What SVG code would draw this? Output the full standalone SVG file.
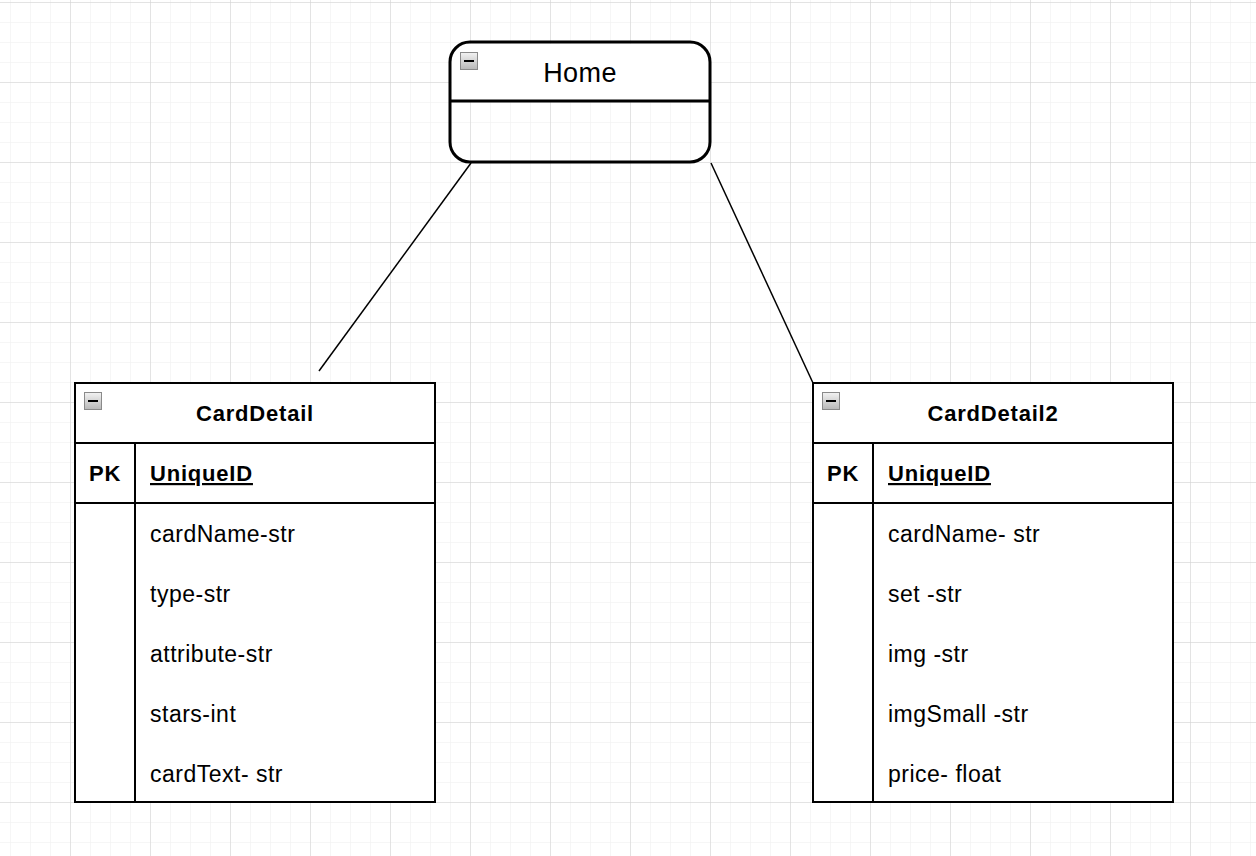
<svg xmlns="http://www.w3.org/2000/svg" width="1256" height="856" viewBox="0 0 1256 856">
<defs>
<pattern id="minor" x="10" y="2" width="20" height="20" patternUnits="userSpaceOnUse">
<path d="M0 0H20M0 0V20" fill="none" stroke="#eeeeee" stroke-width="1"/>
</pattern>
<pattern id="major" x="70" y="2" width="80" height="80" patternUnits="userSpaceOnUse">
<path d="M0 0H80M0 0V80" fill="none" stroke="#d0d0d0" stroke-width="1"/>
</pattern>
<linearGradient id="ig" x1="0" y1="0" x2="0" y2="1">
<stop offset="0" stop-color="#f2f2f2"/>
<stop offset="1" stop-color="#b8b8b8"/>
</linearGradient>
<g id="minus">
<rect x="0.5" y="0.5" width="17" height="17" fill="url(#ig)" stroke="#8a8a8a" stroke-width="1"/>
<rect x="4" y="8" width="10" height="2" fill="#000"/>
</g>
</defs>
<style>
.t{font-family:"Liberation Sans",Arial,Helvetica,sans-serif;font-size:23px;letter-spacing:0.5px;fill:#000}
.b{font-weight:bold;font-size:22px;letter-spacing:0.8px}
.h{font-size:27px;letter-spacing:0.4px}
.box{fill:#fff;stroke:#000;stroke-width:2}
.ln{stroke:#000;stroke-width:2;fill:none}
.conn{stroke:#000;stroke-width:1.5;fill:none}
</style>
<rect width="1256" height="856" fill="#fff"/>
<rect width="1256" height="856" fill="url(#minor)"/>
<rect width="1256" height="856" fill="url(#major)"/>

<g id="connectors">
<line class="conn" x1="471" y1="163" x2="319" y2="371"/>
<line class="conn" x1="711" y1="163" x2="813" y2="383"/>
</g>

<g id="home">
<rect x="451.5" y="43.5" width="257" height="57" rx="18" fill="#fff"/>
<rect x="451.5" y="80" width="257" height="21" fill="#fff"/>
<line x1="450" y1="101" x2="710" y2="101" stroke="#000" stroke-width="3"/>
<rect x="450" y="42" width="260" height="120" rx="20" ry="20" fill="none" stroke="#000" stroke-width="3"/>
<use href="#minus" x="460" y="52"/>
<text class="t h" x="580" y="82" text-anchor="middle">Home</text>
</g>

<g id="carddetail">
<rect class="box" x="75" y="383" width="360" height="419"/>
<line class="ln" x1="75" y1="443" x2="435" y2="443"/>
<line class="ln" x1="75" y1="503" x2="435" y2="503"/>
<line class="ln" x1="135" y1="443" x2="135" y2="802"/>
<use href="#minus" x="84" y="392"/>
<text class="t b" x="255" y="421" text-anchor="middle">CardDetail</text>
<text class="t b" x="105" y="481" text-anchor="middle">PK</text>
<text class="t b" x="150" y="481" text-decoration="underline">UniqueID</text>
<text class="t" x="150" y="542">cardName-str</text>
<text class="t" x="150" y="602">type-str</text>
<text class="t" x="150" y="662">attribute-str</text>
<text class="t" x="150" y="722">stars-int</text>
<text class="t" x="150" y="782">cardText- str</text>
</g>

<g id="carddetail2">
<rect class="box" x="813" y="383" width="360" height="419"/>
<line class="ln" x1="813" y1="443" x2="1173" y2="443"/>
<line class="ln" x1="813" y1="503" x2="1173" y2="503"/>
<line class="ln" x1="873" y1="443" x2="873" y2="802"/>
<use href="#minus" x="822" y="392"/>
<text class="t b" x="993" y="421" text-anchor="middle">CardDetail2</text>
<text class="t b" x="843" y="481" text-anchor="middle">PK</text>
<text class="t b" x="888" y="481" text-decoration="underline">UniqueID</text>
<text class="t" x="888" y="542">cardName- str</text>
<text class="t" x="888" y="602">set -str</text>
<text class="t" x="888" y="662">img -str</text>
<text class="t" x="888" y="722">imgSmall -str</text>
<text class="t" x="888" y="782">price- float</text>
</g>
</svg>
